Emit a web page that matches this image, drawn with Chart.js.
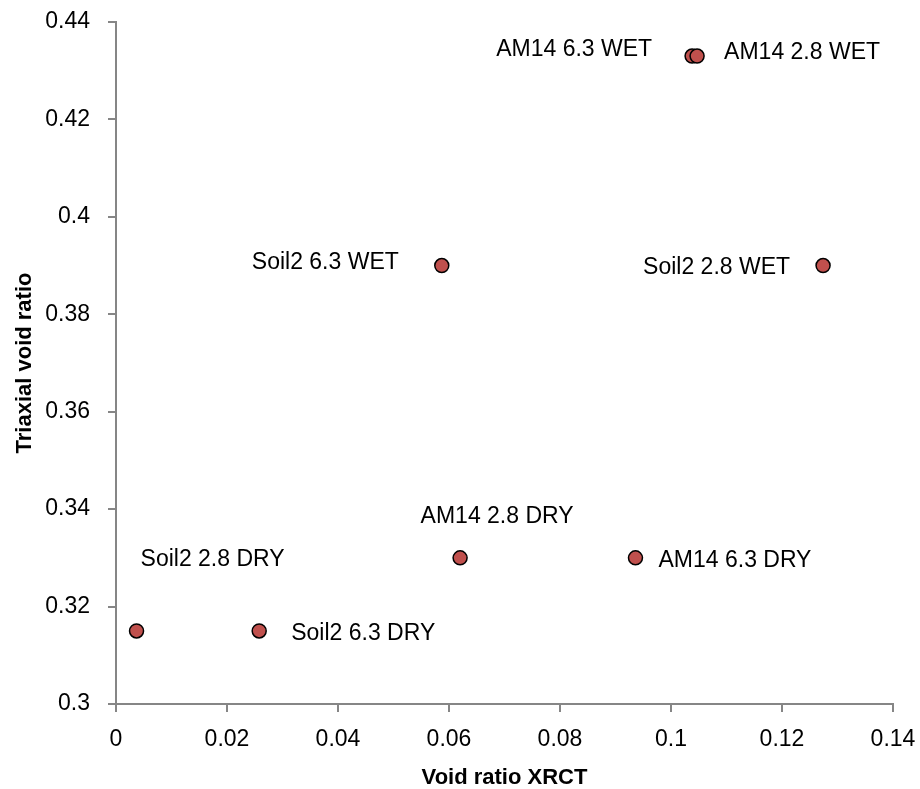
<!DOCTYPE html>
<html>
<head>
<meta charset="utf-8">
<script src="https://cdn.jsdelivr.net/npm/chart.js@4/dist/chart.umd.min.js"></script>
<style>
  body { margin: 0; background: #fff; }
</style>
</head>
<body>
<canvas id="voidChart" width="920" height="789"></canvas>
<script>
// Sample names and void ratios
const sampleNames = [
    'Soil2 2.8 DRY', 'Soil2 6.3 DRY', 'AM14 2.8 DRY', 'AM14 6.3 DRY',
    'Soil2 6.3 WET', 'Soil2 2.8 WET', 'AM14 6.3 WET', 'AM14 2.8 WET'
];
const xrctVoid = [0.0037, 0.0258, 0.0620, 0.0936, 0.0587, 0.1274, 0.1038, 0.1047];
const triaxialVoid = [0.315, 0.315, 0.330, 0.330, 0.390, 0.390, 0.433, 0.433];

const xTicks = [0, 0.02, 0.04, 0.06, 0.08, 0.1, 0.12, 0.14];
const yTicks = [0.3, 0.32, 0.34, 0.36, 0.38, 0.4, 0.42, 0.44];

const axisGrey = '#868686';
const labelFont = '23px "Liberation Sans", Arial, sans-serif';

// Where each name sits relative to its marker (Excel had them dragged around by hand)
const labelPlacement = [
    { dx: 4, dy: -71, align: 'left' },
    { dx: 32, dy: 3, align: 'left' },
    { dx: 37, dy: -41, align: 'center' },
    { dx: 23, dy: 3, align: 'left' },
    { dx: -43, dy: -3, align: 'right' },
    { dx: -33, dy: 2, align: 'right' },
    { dx: -40, dy: -6, align: 'right' },
    { dx: 27, dy: -3, align: 'left' }
];

const pointLabels = {
    id: 'pointLabels',
    afterDatasetsDraw(chart) {
        const c = chart.ctx;
        const meta = chart.getDatasetMeta(0);
        c.save();
        c.font = labelFont;
        c.fillStyle = '#000';
        c.textBaseline = 'middle';
        meta.data.forEach((pt, i) => {
            const p = labelPlacement[i];
            c.textAlign = p.align;
            c.fillText(sampleNames[i], pt.x + p.dx, pt.y + p.dy);
        });
        c.restore();
    }
};

const fmt = v => String(Number(v.toFixed(2)));

const ctx = document.getElementById('voidChart').getContext('2d');

new Chart(ctx, {
    type: 'scatter',
    data: {
        datasets: [{
            label: 'Void ratio',
            data: xrctVoid.map((x, i) => ({ x: x, y: triaxialVoid[i] })),
            backgroundColor: '#C0504D',
            borderColor: '#000',
            borderWidth: 1.5,
            pointRadius: 7,
            pointHoverRadius: 7
        }]
    },
    options: {
        responsive: false,
        animation: false,
        layout: { padding: { left: 0, right: 27, top: 22, bottom: 0 } },
        plugins: {
            legend: { display: false },
            tooltip: { enabled: false }
        },
        scales: {
            x: {
                type: 'linear',
                min: xTicks[0],
                max: xTicks[xTicks.length - 1],
                afterBuildTicks: s => { s.ticks = xTicks.map(v => ({ value: v })); },
                afterFit: s => { s.height = 85; s.paddingLeft = 0; s.paddingRight = 0; },
                ticks: {
                    padding: 14,
                    color: '#000',
                    font: { family: '"Liberation Sans", Arial, sans-serif', size: 23 },
                    callback: fmt
                },
                grid: { drawOnChartArea: false, tickLength: 8, color: axisGrey, lineWidth: 2 },
                border: { display: true, color: axisGrey, width: 2 },
                title: {
                    display: true,
                    text: 'Void ratio XRCT',
                    color: '#000',
                    padding: 0,
                    font: { family: '"Liberation Sans", Arial, sans-serif', size: 22, weight: 'bold', lineHeight: 1 }
                }
            },
            y: {
                type: 'linear',
                min: yTicks[0],
                max: yTicks[yTicks.length - 1],
                afterBuildTicks: s => { s.ticks = yTicks.map(v => ({ value: v })); },
                afterFit: s => { s.width = 116; s.paddingTop = 0; s.paddingBottom = 0; },
                ticks: {
                    padding: 18,
                    color: '#000',
                    font: { family: '"Liberation Sans", Arial, sans-serif', size: 23 },
                    callback: fmt
                },
                grid: { drawOnChartArea: false, tickLength: 8, color: axisGrey, lineWidth: 2 },
                border: { display: true, color: axisGrey, width: 2 },
                title: {
                    display: true,
                    text: 'Triaxial void ratio',
                    color: '#000',
                    padding: { top: 14, bottom: 0 },
                    font: { family: '"Liberation Sans", Arial, sans-serif', size: 22, weight: 'bold', lineHeight: 1 }
                }
            }
        }
    },
    plugins: [pointLabels]
});
</script>
</body>
</html>
